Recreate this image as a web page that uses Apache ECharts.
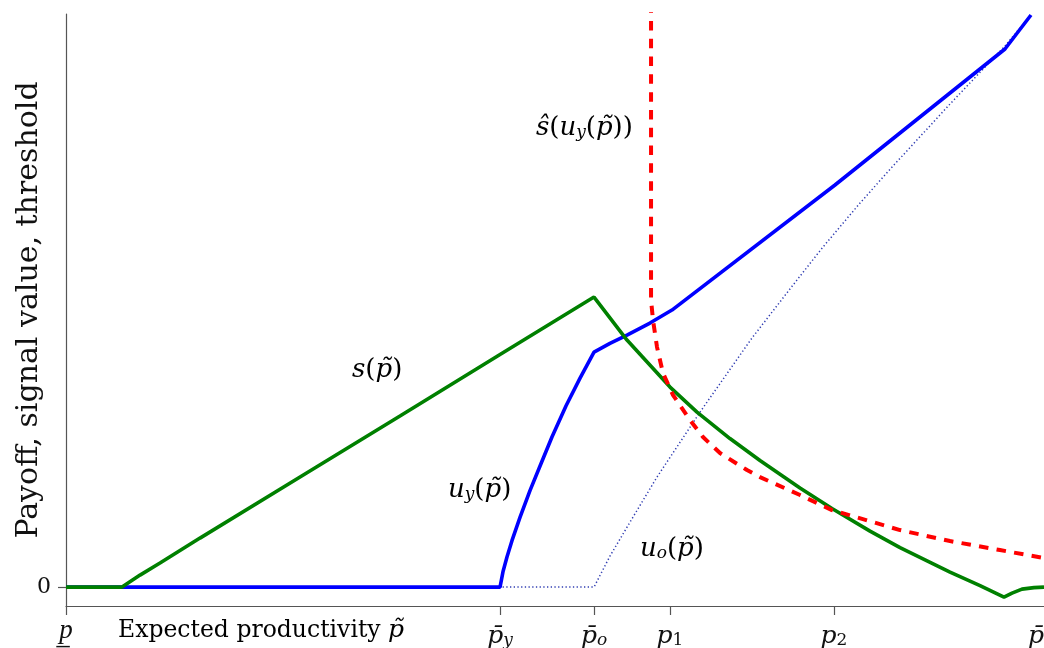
<!DOCTYPE html>
<html>
<head>
<meta charset="utf-8">
<script src="https://cdn.jsdelivr.net/npm/echarts@6/dist/echarts.min.js"></script>
<style>
html,body{margin:0;padding:0;background:#fff;}
#c{width:1044px;height:648px;}
</style>
</head>
<body>
<div id="c"></div>
<script>
// ---- data (x: expected productivity, y: payoff / signal value / threshold) ----
const xMin = 0, xMax = 10;
const yMin = -0.33, yMax = 10;

// x-axis tick positions and labels
const tickValues = [0, 4.438, 5.399, 6.176, 7.853, 10];
const tickLabels = ['{mu|p\u0332}', '{m|p\u0304}{si|y}', '{m|p\u0304}{si|o}', '{m|p}{sr|1}', '{m|p}{sr|2}', '{mr|p\u0304}'];
const tickMarks = [0, 4.438, 5.399, 6.176, 7.853];

// signal value s(p~)  (green)
const sX = [0, 0.573, 0.757, 0.961, 1.370, 2.393, 3.415, 4.438, 5.399, 5.736, 6.176, 6.452, 6.789, 7.096, 7.505, 7.832, 8.221, 8.528, 9.039, 9.346, 9.591, 9.673, 9.775, 9.898, 10];
const sY = [0, 0, 0.209, 0.419, 0.855, 1.920, 2.984, 4.058, 5.061, 4.311, 3.490, 3.054, 2.592, 2.208, 1.728, 1.370, 0.977, 0.689, 0.262, 0.026, -0.175, -0.105, -0.035, -0.009, 0];

// payoff of young u_y(p~)  (blue)
const uyX = [0, 4.438, 4.468, 4.509, 4.560, 4.642, 4.744, 4.847, 4.969, 5.112, 5.256, 5.399, 5.562, 5.736, 5.971, 6.196, 7.863, 9.601, 9.867];
const uyY = [0, 0, 0.267, 0.525, 0.810, 1.216, 1.684, 2.112, 2.618, 3.159, 3.647, 4.101, 4.253, 4.398, 4.607, 4.834, 7.016, 9.389, 9.983];

// payoff of old u_o(p~)  (dotted)
const uoX = [0, 5.399, 5.562, 5.767, 6.043, 6.483, 7.014, 7.434, 7.740, 8.119, 8.456, 9.039, 9.601, 9.867];
const uoY = [0, 0, 0.541, 1.134, 1.920, 3.054, 4.346, 5.271, 5.934, 6.702, 7.347, 8.429, 9.442, 9.983];

// threshold s^(u_y(p~))  (red dashed)
const thX = [5.982, 5.982, 6.002, 6.043, 6.104, 6.207, 6.380, 6.513, 6.687, 6.963, 7.096, 7.505, 7.832, 8.528, 9.039, 9.550, 10];
const thY = [10.5, 5.009, 4.660, 4.188, 3.735, 3.351, 2.914, 2.618, 2.339, 2.042, 1.920, 1.606, 1.344, 0.995, 0.803, 0.646, 0.506];

const zip = (xs, ys) => xs.map((x, i) => [x, ys[i]]);

const SERIF = '"DejaVu Serif", "Liberation Serif", serif';
const MS = 26;   // math font size
const SS = 17;   // subscript size
const mathRich = {
  m:  {fontFamily: SERIF, fontStyle: 'italic', fontSize: MS, color: '#111', lineHeight: 30, verticalAlign: 'middle'},
  mu: {fontFamily: '"Liberation Serif", serif', fontStyle: 'italic', fontSize: 27, color: '#111', lineHeight: 30, verticalAlign: 'middle', padding: [0, 0, 10, 0]},
  mr: {fontFamily: SERIF, fontStyle: 'italic', fontSize: 25, color: '#111', lineHeight: 30, verticalAlign: 'middle', padding: [0, 16, 0, 0]},
  t25: {fontFamily: SERIF, fontStyle: 'italic', fontSize: 25, color: '#111', lineHeight: 30, verticalAlign: 'middle'},
  n:  {fontFamily: SERIF, fontSize: MS, color: '#111', lineHeight: 30, verticalAlign: 'middle'},
  t:  {fontFamily: SERIF, fontSize: 23.5, color: '#111', lineHeight: 30, verticalAlign: 'middle'},
  si: {fontFamily: SERIF, fontStyle: 'italic', fontSize: SS, color: '#111', padding: [10, 0, 0, 0], verticalAlign: 'middle'},
  sr: {fontFamily: SERIF, fontSize: SS, color: '#111', padding: [10, 0, 0, 0], verticalAlign: 'middle'}
};
const tickRich = Object.assign({}, mathRich, {
  m: {fontFamily: SERIF, fontStyle: 'italic', fontSize: 25, color: '#111', lineHeight: 30, verticalAlign: 'middle'}
});

const chart = echarts.init(document.getElementById('c'), null, {renderer: 'canvas'});

const option = {
  animation: false,
  backgroundColor: '#fff',
  grid: {left: 66, right: 0, top: 14, bottom: 42, containLabel: false, outerBoundsMode: 'none'},
  xAxis: {
    type: 'value', min: xMin, max: xMax,
    axisLine: {onZero: false, lineStyle: {color: '#555', width: 1.2}},
    splitLine: {show: false},
    axisTick: {show: true, length: 9, customValues: tickMarks, lineStyle: {color: '#555', width: 1.2}},
    axisLabel: {
      customValues: tickValues, margin: 15,
      hideOverlap: false,
      formatter: function (v) {
        let best = 0;
        for (let i = 1; i < tickValues.length; i++) if (Math.abs(tickValues[i] - v) < Math.abs(tickValues[best] - v)) best = i;
        return tickLabels[best];
      },
      rich: tickRich
    }
  },
  yAxis: {
    type: 'value', min: yMin, max: yMax,
    axisLine: {show: true, lineStyle: {color: '#555', width: 1.2}},
    splitLine: {show: false},
    axisTick: {show: true, length: 8, customValues: [0], lineStyle: {color: '#555', width: 1.2}},
    axisLabel: {customValues: [0], margin: 15, fontFamily: SERIF, fontSize: 22, color: '#111', formatter: v => String(Math.round(v))},
    name: 'Payoff, signal value, threshold',
    nameLocation: 'middle', nameRotate: 90, nameGap: 22, nameMoveOverlap: false,
    nameTextStyle: {fontFamily: SERIF, fontSize: 30, color: '#111'}
  },
  series: [
    {name: 'u_o', type: 'line', data: zip(uoX, uoY), symbol: 'none', z: 2,
     lineStyle: {color: 'rgba(25,40,170,0.9)', width: 1.5, type: [1.3, 2.4]}},
    {name: 'u_y', type: 'line', data: zip(uyX, uyY), symbol: 'none', z: 3,
     lineStyle: {color: '#0000ff', width: 3.6}},
    {name: 's', type: 'line', data: zip(sX, sY), symbol: 'none', z: 4,
     lineStyle: {color: '#008000', width: 3.6}},
    {name: 'threshold', type: 'line', data: zip(thX, thY), symbol: 'none', z: 5,
     lineStyle: {color: '#ff0000', width: 4, type: [9.5, 8.3]}}
  ],
  graphic: [
    {type: 'text', left: 536, top: 115, style: {rich: mathRich,
      text: '{m|s\u0302}{n|(}{m|u}{si|y}{n|(}{m|p\u0303}{n|))}'}},
    {type: 'text', left: 352, top: 357, style: {rich: mathRich,
      text: '{m|s}{n|(}{m|p\u0303}{n|)}'}},
    {type: 'text', left: 448, top: 477, style: {rich: mathRich,
      text: '{m|u}{si|y}{n|(}{m|p\u0303}{n|)}'}},
    {type: 'text', left: 640, top: 536, style: {rich: mathRich,
      text: '{m|u}{si|o}{n|(}{m|p\u0303}{n|)}'}},
    {type: 'text', left: 118, top: 618, style: {rich: mathRich,
      text: '{t|Expected productivity }{t25|p\u0303}'}}
  ]
};
chart.setOption(option);
</script>
</body>
</html>
